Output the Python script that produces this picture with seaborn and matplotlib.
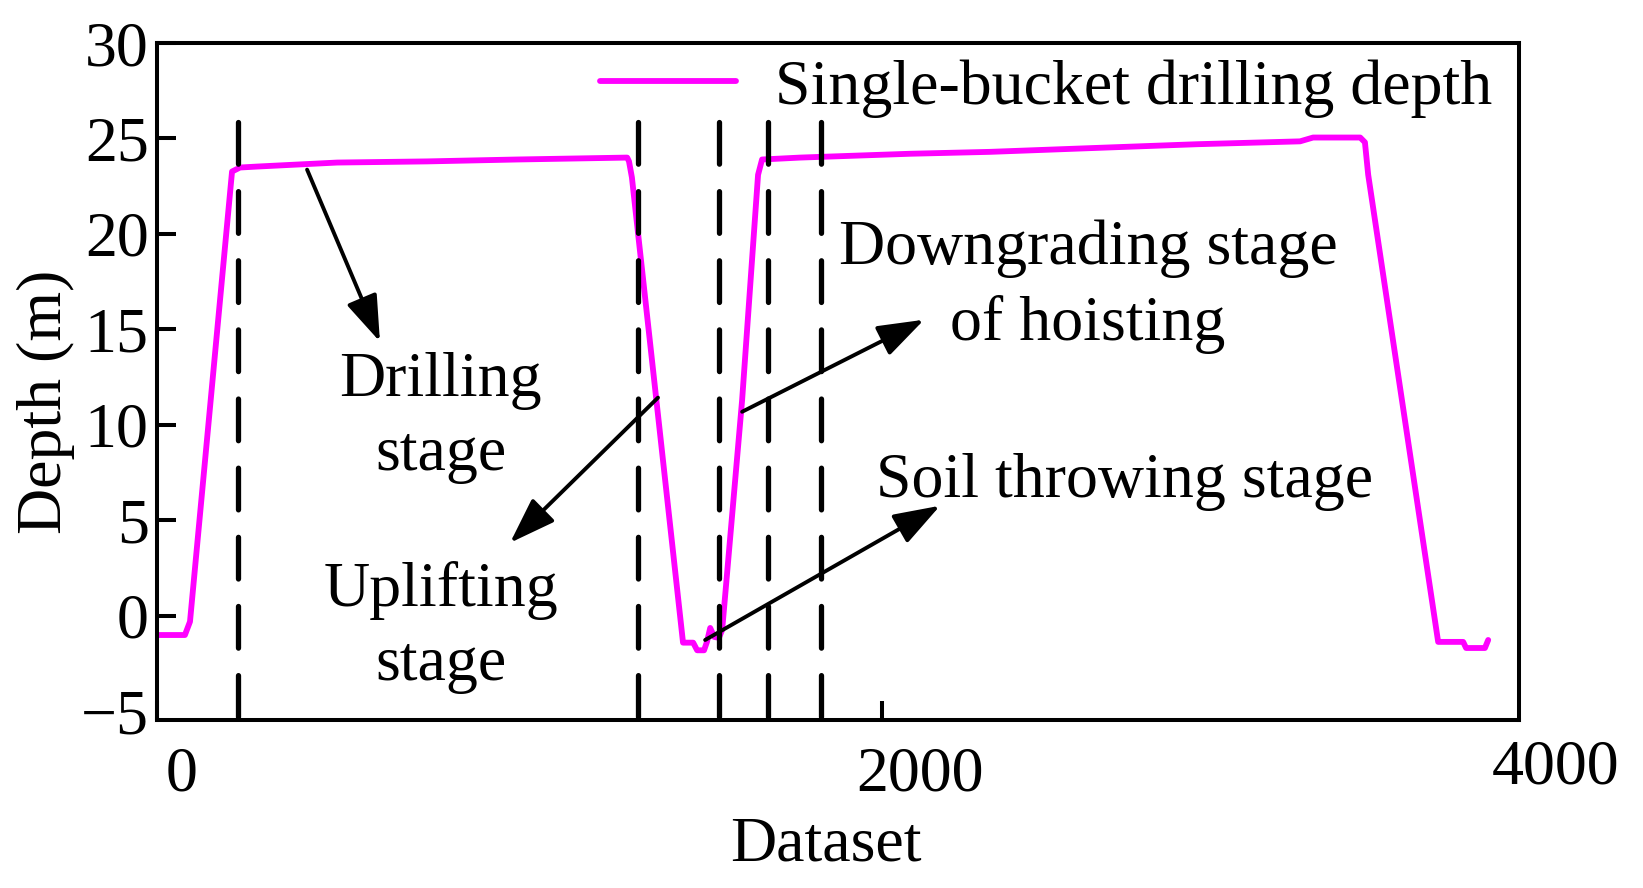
import numpy as np
import pandas as pd
import matplotlib
matplotlib.use('Agg')
import matplotlib.pyplot as plt
import matplotlib.transforms as mtransforms
import seaborn as sns

# depth trace of one bucket cycle
dataset_idx = [0, 77, 91, 207, 229, 276, 497, 745, 993, 1297,
               1302, 1310, 1451, 1479, 1490, 1509, 1517, 1526,
               1537, 1550, 1559, 1614, 1658, 1669, 1774, 2077, 2298, 2582,
               2869, 3153, 3189, 3319, 3332, 3341, 3534, 3603,
               3611, 3663, 3672]
depth = [-1.0, -1.0, -0.3, 23.27, 23.48, 23.53, 23.74, 23.8, 23.9, 24.0,
         23.8, 22.96, -1.4, -1.4, -1.8, -1.8, -1.36, -0.63,
         -1.1, -1.15, -0.73, 11.3, 23.1, 23.9, 24.0, 24.2, 24.3, 24.5,
         24.7, 24.85, 25.05, 25.05, 24.8, 23.1, -1.36, -1.36,
         -1.68, -1.68, -1.26]

# stage boundaries (dashed lines)
stage_x = [223, 1327, 1550, 1686, 1832]
stage_top = 25.84

# annotations (y = baseline of the last text line)
stage_names = ['Drilling\nstage', 'Uplifting\nstage',
               'Downgrading stage\nof hoisting', 'Soil throwing stage']
name_x = [783, 783, 2568, 2668]
name_y = [7.65, -3.35, 14.47, 6.24]
arrow_from_x = [414, 1382, 1614, 1512]
arrow_from_y = [23.37, 11.43, 10.69, -1.26]
arrow_to_x = [615, 974, 2116, 2160]
arrow_to_y = [14.36, 3.83, 15.51, 5.77]

y_ticks = [-5, 0, 5, 10, 15, 20, 25, 30]
x_ticks = [0, 2000]

df = pd.DataFrame({'Dataset': dataset_idx, 'Depth': depth})

sns.set_style('ticks')
plt.rcParams['font.family'] = ['Liberation Serif', 'DejaVu Serif']
for key in ['text.color', 'axes.labelcolor', 'xtick.color', 'ytick.color',
            'axes.edgecolor']:
    plt.rcParams[key] = 'black'
fs = 46

fig = plt.figure(figsize=(16.43, 8.88), dpi=100)
ax = fig.add_axes([157 / 1643, 1 - 720 / 888, 1362 / 1643, 677 / 888])

sns.lineplot(data=df, x='Dataset', y='Depth', ax=ax, color='#FF00FF',
             estimator=None, sort=False,
             label='Single-bucket drilling depth')
depth_line = ax.lines[0]
depth_line.set_linewidth(4.2)
depth_line.set_solid_joinstyle('round')
depth_line.set_solid_capstyle('round')

for sx in stage_x:
    ax.plot([sx, sx], [stage_top, -5.45], color='black', lw=3.8,
            dashes=(7.9, 5.2), dash_capstyle='round', clip_on=False)

for i in range(len(stage_names)):
    ax.text(name_x[i], name_y[i], stage_names[i], fontsize=fs, color='black',
            ha='center', va='baseline', multialignment='center',
            linespacing=1.37)
    ax.annotate('', xy=(arrow_to_x[i], arrow_to_y[i]),
                xytext=(arrow_from_x[i], arrow_from_y[i]),
                arrowprops=dict(arrowstyle='-|>,head_length=0.75,head_width=0.26',
                                mutation_scale=38, lw=2.8, color='black',
                                shrinkA=0, shrinkB=0))

ax.set_xlim(0, 3757)
ax.set_ylim(-5.45, 30)
ax.set_yticks(y_ticks)
ax.set_xticks(x_ticks)
ax.set_yticklabels([str(v) if v >= 0 else '\u2212' + str(-v) for v in y_ticks])
ax.set_xticklabels([str(v) for v in x_ticks])

for side in ['left', 'right', 'top', 'bottom']:
    ax.spines[side].set_linewidth(2.9)
    ax.spines[side].set_color('black')
ax.tick_params(axis='both', direction='in', length=14, width=2.9,
               labelsize=fs, colors='black')
ax.tick_params(axis='y', pad=6)
ax.tick_params(axis='x', pad=19)
ax.yaxis.get_major_ticks()[0].tick1line.set_visible(False)

# tick labels sit to the right of their marks in the original
offsets = [25, 38]
for lab, dx in zip(ax.get_xticklabels(), offsets):
    lab.set_transform(lab.get_transform() +
                      mtransforms.ScaledTranslation(dx / 100, 0, fig.dpi_scale_trans))
ax.text(1.0 + 37 / 1362, -19 / 677, '4000', transform=ax.transAxes,
        fontsize=fs, color='black', ha='center', va='top')

ax.set_xlabel('Dataset', fontsize=fs, color='black')
ax.set_ylabel('Depth (m)', fontsize=fs, color='black')
ax.xaxis.set_label_coords(0.491, -0.142)
ax.yaxis.set_label_coords(-0.060, 0.470)

leg = ax.legend(loc='center left', bbox_to_anchor=(0.325, 0.933), frameon=False,
                fontsize=fs, handlelength=2.14, handletextpad=0.6,
                borderpad=0, borderaxespad=0)
for h in leg.get_lines():
    h.set_linewidth(4.2)
for t in leg.get_texts():
    t.set_color('black')

fig.savefig('out.png', dpi=100)
